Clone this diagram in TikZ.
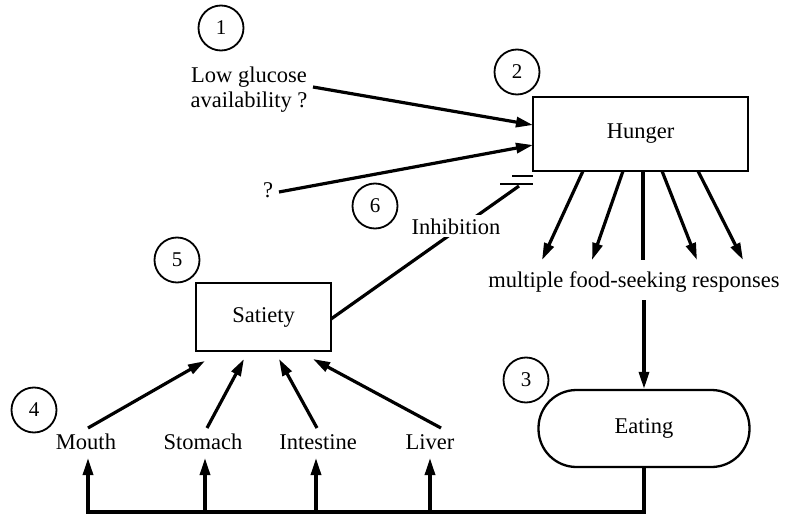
\documentclass[tikz,border=0pt]{standalone}
\usepackage{fontspec}
\setmainfont{Liberation Serif}
\usetikzlibrary{arrows.meta}
\begin{document}
\begin{tikzpicture}[x=1pt,y=-1pt,
  lbl/.style={font=\fontsize{22.5}{25}\selectfont, inner sep=0pt, anchor=base},
  num/.style={circle, draw, line width=1.8pt, minimum size=45pt, inner sep=0pt, font=\fontsize{21}{22}\selectfont},
  box/.style={draw, line width=2.3pt, inner sep=0pt, font=\fontsize{22.5}{25}\selectfont},
  arr/.style={line width=3.2pt, -{Triangle[length=17pt,width=10pt]}},
  ln/.style={line width=3.2pt},
  barline/.style={line width=2.8pt},
]
\useasboundingbox (0,0) rectangle (785,519);

% boxes
\node[box, minimum width=215pt, minimum height=74pt] (hunger) at (640.5,134) {Hunger};
\node[box, minimum width=135pt, minimum height=68pt] (satiety) at (263.5,317) {Satiety};
\node[box, minimum width=211pt, minimum height=77pt, rounded corners=38pt] (eating) at (644,428.5) {Eating};

% number circles
\node[num] (c1) at (221,28) {1};
\node[num] (c2) at (517,72) {2};
\node[num] (c3) at (526,380) {3};
\node[num] (c4) at (34,410) {4};
\node[num] (c5) at (177,260) {5};
\node[num] (c6) at (375,206) {6};

% text labels
\node[lbl] (lg1) at (249,83) {Low glucose};
\node[lbl] (lg2) at (249,107) {availability ?};
\node[lbl] (q) at (268,197) {?};
\node[lbl] (mfs) at (634,287) {multiple food-seeking responses};
\node[lbl] (mouth) at (86,449) {Mouth};
\node[lbl] (stomach) at (203,449) {Stomach};
\node[lbl] (intestine) at (318,449) {Intestine};
\node[lbl] (liver) at (430,449) {Liver};

% coordinates
\coordinate (lgA) at (313,87);   \coordinate (hA) at (533,125);
\coordinate (qA) at (279,192);   \coordinate (hB) at (533,145);
\coordinate (satE) at (331,319); \coordinate (barC) at (519,186);
\coordinate (f1s) at (583,171); \coordinate (f1e) at (542,260);
\coordinate (f2s) at (623,171); \coordinate (f2e) at (592,260);
\coordinate (f3s) at (643,171); \coordinate (f3e) at (643,260);
\coordinate (f4s) at (662,171); \coordinate (f4e) at (697,260);
\coordinate (f5s) at (698,171); \coordinate (f5e) at (743,260);
\coordinate (mfsB) at (644,300);
\coordinate (loopR) at (644,512); \coordinate (bm) at (88,512);
\coordinate (bs) at (205,512); \coordinate (bi) at (316,512); \coordinate (bl) at (430,512);
\coordinate (tm) at (88,458); \coordinate (ts) at (205,458);
\coordinate (ti) at (316,458); \coordinate (tl) at (430,458);
\coordinate (mA) at (88,428);  \coordinate (sA) at (205,361);
\coordinate (stA) at (207,428); \coordinate (sB) at (244,359);
\coordinate (inA) at (317,428); \coordinate (sC) at (279,359);
\coordinate (liA) at (441,428); \coordinate (sD) at (313,359);

% inputs to hunger
\draw[arr] (lgA) -- (hA);
\draw[arr] (qA) -- (hB);

% inhibition
\draw[ln] (satE) -- (barC);
\draw[barline] (512,176) -- (533,176);
\draw[barline] (500,184) -- (533,184);
\node[lbl, fill=white, inner sep=3pt] (inh) at (456,234) {Inhibition};

% fan of responses
\draw[arr] (f1s) -- (f1e);
\draw[arr] (f2s) -- (f2e);
\draw[ln]  (f3s) -- (f3e);
\draw[arr] (f4s) -- (f4e);
\draw[arr] (f5s) -- (f5e);

% to eating
\draw[arr] (mfsB) -- (eating.north);

% feedback loop
\draw[ln, line join=miter] (eating.south) -- (loopR) -- ([xshift=-1.6pt]bm);
\draw[arr] (bm) -- (tm);
\draw[arr] (bs) -- (ts);
\draw[arr] (bi) -- (ti);
\draw[arr] (bl) -- (tl);

% to satiety
\draw[arr] (mA) -- (sA);
\draw[arr] (stA) -- (sB);
\draw[arr] (inA) -- (sC);
\draw[arr] (liA) -- (sD);
\end{tikzpicture}
\end{document}
